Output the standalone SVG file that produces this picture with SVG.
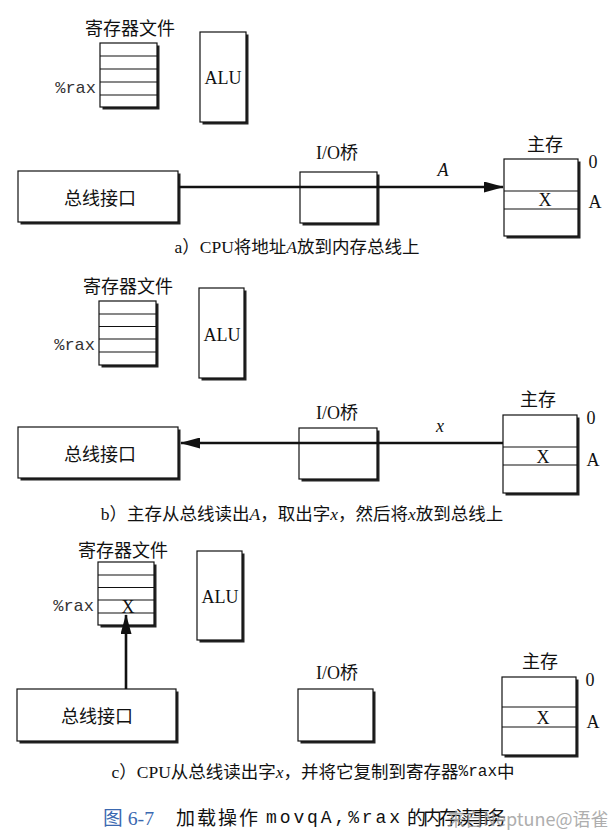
<svg xmlns="http://www.w3.org/2000/svg" width="615" height="834" viewBox="0 0 615 834">
<style>
.bg{fill:#fff}
.sh{fill:#222}
.box{fill:#fff;stroke:#111;stroke-width:1.2}
.ln{stroke:#111;stroke-width:1.2}
.bus{stroke:#111;stroke-width:2.6;fill:none}
.cn{font-family:"Noto Sans CJK SC","Liberation Serif",sans-serif;font-size:18px;fill:#111;dominant-baseline:central}
.sf{font-family:"Liberation Serif","Noto Sans CJK SC",serif;font-size:18px;fill:#111;dominant-baseline:central}
.mono{font-family:"Liberation Mono",monospace;font-size:17px;fill:#333;dominant-baseline:central}
.cap{font-family:"Liberation Serif","Noto Sans CJK SC",serif;font-size:17.5px;fill:#111;dominant-baseline:central}
.it{font-style:italic}
</style>
<defs>
<marker id="ah" markerWidth="20" markerHeight="11" refX="19" refY="5.5" orient="auto" markerUnits="userSpaceOnUse">
<path d="M0,0 L20,5.5 L0,11 Z" fill="#111"/>
</marker>
</defs>
<rect class="bg" x="0" y="0" width="615" height="834"/>

<!-- Panel a -->
<g id="regfile-a">
<text class="cn" x="130" y="27" text-anchor="middle">寄存器文件</text>
<rect class="sh" x="102.5" y="45.5" width="57" height="64"/>
<rect class="box" x="100" y="43" width="57" height="64"/>
<line class="ln" x1="100" y1="56" x2="157" y2="56"/>
<line class="ln" x1="100" y1="69" x2="157" y2="69"/>
<line class="ln" x1="100" y1="82" x2="157" y2="82"/>
<line class="ln" x1="100" y1="95" x2="157" y2="95"/>
<text class="mono" x="96" y="88.5" text-anchor="end">%rax</text>
</g>
<g id="alu-a">
<rect class="sh" x="202.5" y="34.5" width="46" height="90"/>
<rect class="box" x="200" y="32" width="46" height="90"/>
<text class="sf" x="223" y="78" text-anchor="middle">ALU</text>
</g>
<g id="bus-if-a">
<rect class="sh" x="20.5" y="173.5" width="160" height="51"/>
<rect class="box" x="18" y="171" width="160" height="51"/>
<text class="cn" x="100" y="197" text-anchor="middle">总线接口</text>
</g>
<g id="iobridge-a">
<text class="sf" x="337" y="153" text-anchor="middle">I/O桥</text>
<rect class="sh" x="302.5" y="174.5" width="77" height="51"/>
<rect class="box" x="300" y="172" width="77" height="51"/>
</g>
<g id="mem-a">
<text class="cn" x="545" y="143" text-anchor="middle">主存</text>
<rect class="sh" x="506.5" y="161.5" width="74" height="77"/>
<rect class="box" x="504" y="159" width="74" height="77"/>
<line class="ln" x1="504" y1="191" x2="578" y2="191"/>
<line class="ln" x1="504" y1="209" x2="578" y2="209"/>
<text class="sf" x="545" y="200" text-anchor="middle">X</text>
<text class="sf" x="593" y="162" text-anchor="middle">0</text>
<text class="sf" x="595" y="202" text-anchor="middle">A</text>
</g>
<text class="cap" x="297" y="247" text-anchor="middle">a）CPU将地址<tspan class="it">A</tspan>放到内存总线上</text>

<!-- Panel b -->
<g id="regfile-b">
<text class="cn" x="128" y="285" text-anchor="middle">寄存器文件</text>
<rect class="sh" x="101.5" y="303.5" width="57" height="64"/>
<rect class="box" x="99" y="301" width="57" height="64"/>
<line class="ln" x1="99" y1="314" x2="156" y2="314"/>
<line class="ln" x1="99" y1="326.5" x2="156" y2="326.5"/>
<line class="ln" x1="99" y1="339" x2="156" y2="339"/>
<line class="ln" x1="99" y1="352" x2="156" y2="352"/>
<text class="mono" x="95" y="345.5" text-anchor="end">%rax</text>
</g>
<g id="alu-b">
<rect class="sh" x="201.5" y="290.5" width="45" height="90"/>
<rect class="box" x="199" y="288" width="45" height="90"/>
<text class="sf" x="222" y="335" text-anchor="middle">ALU</text>
</g>
<g id="bus-if-b">
<rect class="sh" x="20.5" y="429.5" width="160" height="51"/>
<rect class="box" x="18" y="427" width="160" height="51"/>
<text class="cn" x="100" y="453" text-anchor="middle">总线接口</text>
</g>
<g id="iobridge-b">
<text class="sf" x="337" y="413" text-anchor="middle">I/O桥</text>
<rect class="sh" x="301.5" y="430.5" width="78" height="51"/>
<rect class="box" x="299" y="428" width="78" height="51"/>
</g>
<g id="mem-b">
<text class="cn" x="538" y="398" text-anchor="middle">主存</text>
<rect class="sh" x="505.5" y="417.5" width="74" height="78"/>
<rect class="box" x="503" y="415" width="74" height="78"/>
<line class="ln" x1="503" y1="447" x2="577" y2="447"/>
<line class="ln" x1="503" y1="465" x2="577" y2="465"/>
<text class="sf" x="543" y="456.5" text-anchor="middle">X</text>
<text class="sf" x="591" y="418" text-anchor="middle">0</text>
<text class="sf" x="593" y="460" text-anchor="middle">A</text>
</g>
<text class="cap" x="302" y="514" text-anchor="middle" font-size="18.5">b）主存从总线读出<tspan class="it">A</tspan>，取出字<tspan class="it">x</tspan>，然后将<tspan class="it">x</tspan>放到总线上</text>

<!-- Panel c -->
<g id="regfile-c">
<text class="cn" x="123" y="549" text-anchor="middle">寄存器文件</text>
<rect class="sh" x="100.5" y="564.5" width="56" height="63"/>
<rect class="box" x="98" y="562" width="56" height="63"/>
<line class="ln" x1="98" y1="575" x2="154" y2="575"/>
<line class="ln" x1="98" y1="587.5" x2="154" y2="587.5"/>
<line class="ln" x1="98" y1="600" x2="154" y2="600"/>
<line class="ln" x1="98" y1="613" x2="154" y2="613"/>
<text class="mono" x="94" y="606.5" text-anchor="end">%rax</text>
<text class="sf" x="128" y="606.5" text-anchor="middle">X</text>
</g>
<g id="alu-c">
<rect class="sh" x="199.5" y="553.5" width="45" height="89"/>
<rect class="box" x="197" y="551" width="45" height="89"/>
<text class="sf" x="220" y="597" text-anchor="middle">ALU</text>
</g>
<g id="bus-if-c">
<rect class="sh" x="19.5" y="691.5" width="159" height="52"/>
<rect class="box" x="17" y="689" width="159" height="52"/>
<text class="cn" x="97" y="715" text-anchor="middle">总线接口</text>
</g>
<g id="iobridge-c">
<text class="sf" x="337" y="673" text-anchor="middle">I/O桥</text>
<rect class="sh" x="300.5" y="691.5" width="75" height="52"/>
<rect class="box" x="298" y="689" width="75" height="52"/>
</g>
<g id="mem-c">
<text class="cn" x="540" y="660" text-anchor="middle">主存</text>
<rect class="sh" x="504.5" y="679.5" width="74" height="78"/>
<rect class="box" x="502" y="677" width="74" height="78"/>
<line class="ln" x1="502" y1="707" x2="576" y2="707"/>
<line class="ln" x1="502" y1="727" x2="576" y2="727"/>
<text class="sf" x="543" y="718" text-anchor="middle">X</text>
<text class="sf" x="590" y="680" text-anchor="middle">0</text>
<text class="sf" x="593" y="722" text-anchor="middle">A</text>
</g>
<text class="cap" x="313" y="772" text-anchor="middle">c）CPU从总线读出字<tspan class="it">x</tspan>，并将它复制到寄存器<tspan font-family="Liberation Mono,monospace" font-size="16">%rax</tspan>中</text>

<!-- Connectors -->
<g id="connectors">
<line class="bus" x1="179" y1="187" x2="503" y2="187" marker-end="url(#ah)"/>
<text class="sf it" x="443" y="170" text-anchor="middle">A</text>
<line class="bus" x1="503" y1="443" x2="181" y2="443" marker-end="url(#ah)"/>
<text class="sf it" x="440" y="426" text-anchor="middle">x</text>
<line class="bus" x1="126" y1="689" x2="126" y2="615" marker-end="url(#ah)"/>
</g>

<!-- Figure title -->
<g id="title" style="font-family:'Liberation Serif','Noto Sans CJK SC',serif;font-size:19px;dominant-baseline:central">
<text x="103" y="818" fill="#3a68b0" textLength="51" lengthAdjust="spacingAndGlyphs">图 6-7</text>
<text x="176" y="818" fill="#111" textLength="82">加载操作</text>
<text x="266" y="818" fill="#111" font-family="Liberation Mono,monospace" font-size="18" textLength="134">movqA,%rax</text>
<text x="407" y="818" fill="#111" textLength="99">的内存读事务</text>
</g>
<text x="447" y="818" style="font-family:'Noto Sans CJK SC',sans-serif;font-size:18px;fill:#9a9a9a;opacity:0.8;dominant-baseline:central">来自Neptune@语雀</text>
</svg>
